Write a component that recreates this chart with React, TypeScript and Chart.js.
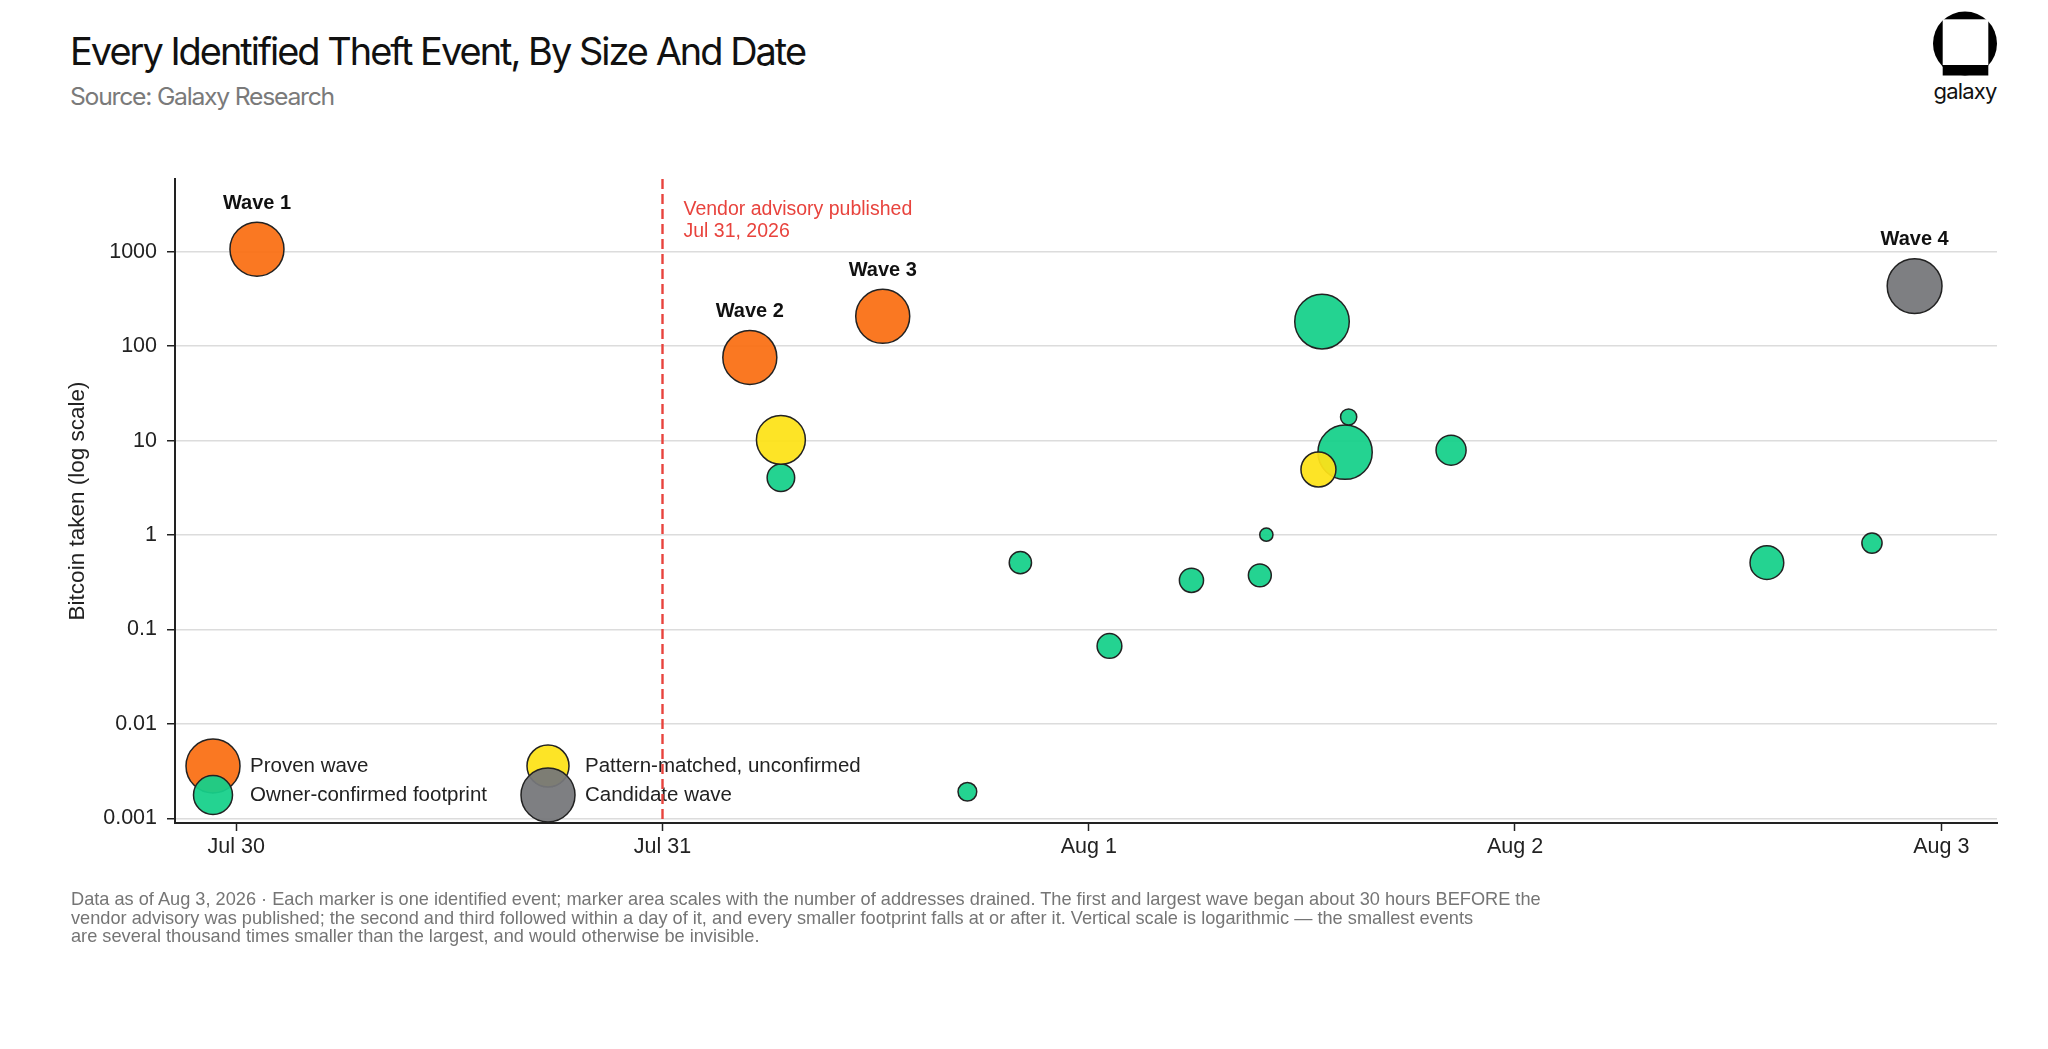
import { useEffect, useLayoutEffect, useRef } from "react";
import { Chart, registerables } from "chart.js";

Chart.register(...registerables);

// event data (UTC times, BTC taken, addresses drained -> marker area)
const provenTimes = ["2026-07-30T01:10", "2026-07-31T04:55", "2026-07-31T12:24"];
const provenBtc = [1065, 76, 207];
const provenAddresses = [100, 100, 100];
const provenLabels = ["Wave 1", "Wave 2", "Wave 3"];

const candidateTimes = ["2026-08-02T22:30"];
const candidateBtc = [433];
const candidateAddresses = [103];
const candidateLabels = ["Wave 4"];

const patternTimes = ["2026-07-31T06:40", "2026-08-01T12:56"];
const patternBtc = [10.2, 4.95];
const patternAddresses = [82, 42];

const ownerTimes = [
  "2026-07-31T06:40",
  "2026-07-31T17:10",
  "2026-07-31T20:09",
  "2026-08-01T01:10",
  "2026-08-01T05:47",
  "2026-08-01T09:38",
  "2026-08-01T10:00",
  "2026-08-01T13:08",
  "2026-08-01T14:26",
  "2026-08-01T14:38",
  "2026-08-01T20:24",
  "2026-08-02T14:11",
  "2026-08-02T20:06",
];
const ownerBtc = [4.04, 0.00192, 0.511, 0.0671, 0.332, 0.375, 1.01, 182, 7.54, 17.8, 7.92, 0.511, 0.823];
const ownerAddresses = [26, 12, 17, 21, 20, 18, 6, 102, 101, 9, 31, 39, 14];

const dayTicks = ["2026-07-30T00:00", "2026-07-31T00:00", "2026-08-01T00:00", "2026-08-02T00:00", "2026-08-03T00:00"];
const dayLabels = ["Jul 30", "Jul 31", "Aug 1", "Aug 2", "Aug 3"];
const yTicks = [0.001, 0.01, 0.1, 1, 10, 100, 1000];
const yTickLabels = ["0.001", "0.01", "0.1", "1", "10", "100", "1000"];
const advisoryTime = "2026-07-31T00:00";

const ORIGIN = Date.parse("2026-07-30T00:00Z");
const toDays = (t: string) => (Date.parse(t + "Z") - ORIGIN) / 86400000;
const sizeOf = (n: number) => 2.7 * Math.sqrt(n);

const FONT = "'Liberation Sans', Arial, sans-serif";
const ORANGE = "rgba(250,112,20,0.94)";
const YELLOW = "rgba(253,226,24,0.94)";
const GREEN = "rgba(22,208,138,0.94)";
const GRAY = "rgba(118,119,122,0.94)";
const RED = "#e8433d";

const points = (times: string[], btc: number[], addr: number[]) =>
  times.map((t, i) => ({ x: toDays(t), y: btc[i], r: sizeOf(addr[i]) }));

const legendItems = [
  { label: "Proven wave", color: ORANGE, r: 27, col: 0, row: 0 },
  { label: "Pattern-matched, unconfirmed", color: YELLOW, r: 21, col: 1, row: 0 },
  { label: "Owner-confirmed footprint", color: GREEN, r: 19.5, col: 0, row: 1 },
  { label: "Candidate wave", color: GRAY, r: 27, col: 1, row: 1 },
];

const overlay = {
  id: "overlay",
  afterDatasetsDraw(chart: any) {
    const { ctx, chartArea, scales } = chart;
    ctx.save();

    // wave labels above the big markers
    ctx.font = `bold 20px ${FONT}`;
    ctx.fillStyle = "#111";
    ctx.textAlign = "center";
    ctx.textBaseline = "middle";
    chart.data.datasets.forEach((ds: any, di: number) => {
      if (!ds.waveLabels) return;
      chart.getDatasetMeta(di).data.forEach((el: any, i: number) => {
        ctx.fillText(ds.waveLabels[i], el.x, el.y - ds.data[i].r - 19);
      });
    });

    // legend inside plot, bottom left
    ctx.textAlign = "left";
    ctx.font = `20.5px ${FONT}`;
    legendItems.forEach((it) => {
      const cx = chartArea.left + 38 + it.col * 335;
      const cy = chartArea.bottom - 57 + it.row * 29;
      ctx.beginPath();
      ctx.arc(cx, cy, it.r, 0, Math.PI * 2);
      ctx.fillStyle = it.color;
      ctx.fill();
      ctx.lineWidth = 1.5;
      ctx.strokeStyle = "#222";
      ctx.stroke();
      ctx.fillStyle = "#222";
      ctx.fillText(it.label, cx + 37, cy);
    });

    // vendor advisory marker
    const x = scales.x.getPixelForValue(toDays(advisoryTime));
    ctx.strokeStyle = RED;
    ctx.lineWidth = 2.4;
    ctx.setLineDash([10, 5]);
    ctx.beginPath();
    ctx.moveTo(x, chartArea.top);
    ctx.lineTo(x, chartArea.bottom);
    ctx.stroke();
    ctx.setLineDash([]);
    ctx.fillStyle = RED;
    ctx.font = `19.5px ${FONT}`;
    ctx.fillText("Vendor advisory published", x + 21, chartArea.top + 31);
    ctx.fillText("Jul 31, 2026", x + 21, chartArea.top + 53);
    ctx.restore();
  },
};

function FitText({ width, style, children }: any) {
  const ref = useRef<HTMLSpanElement>(null);
  useLayoutEffect(() => {
    const el = ref.current;
    if (!el) return;
    el.style.transform = "none";
    const w = el.getBoundingClientRect().width;
    el.style.transform = `scaleX(${width / w})`;
  }, [width]);
  return (
    <span ref={ref} style={{ display: "inline-block", whiteSpace: "nowrap", transformOrigin: "left top", ...style }}>
      {children}
    </span>
  );
}

function TheftChart() {
  const canvasRef = useRef<HTMLCanvasElement>(null);

  useEffect(() => {
    if (!canvasRef.current) return;
    const chart = new Chart(canvasRef.current, {
      type: "bubble",
      data: {
        datasets: [
          {
            label: "Proven wave",
            data: points(provenTimes, provenBtc, provenAddresses),
            backgroundColor: ORANGE,
            borderColor: "#222",
            borderWidth: 1.5,
            waveLabels: provenLabels,
            order: 1,
          },
          {
            label: "Candidate wave",
            data: points(candidateTimes, candidateBtc, candidateAddresses),
            backgroundColor: GRAY,
            borderColor: "#222",
            borderWidth: 1.5,
            waveLabels: candidateLabels,
            order: 2,
          },
          {
            label: "Pattern-matched, unconfirmed",
            data: points(patternTimes, patternBtc, patternAddresses),
            backgroundColor: YELLOW,
            borderColor: "#222",
            borderWidth: 1.5,
            order: 3,
          },
          {
            label: "Owner-confirmed footprint",
            data: points(ownerTimes, ownerBtc, ownerAddresses),
            backgroundColor: GREEN,
            borderColor: "#222",
            borderWidth: 1.5,
            order: 4,
          },
        ] as any,
      },
      options: {
        animation: false,
        responsive: true,
        maintainAspectRatio: false,
        events: [],
        layout: { padding: { top: 28, left: 60, right: 51, bottom: 37 } },
        plugins: { legend: { display: false }, tooltip: { enabled: false } },
        scales: {
          x: {
            type: "linear",
            min: -0.1437,
            max: 4.1308,
            afterFit: (s: any) => {
              s.height = 50;
            },
            afterBuildTicks: (s: any) => {
              s.ticks = dayTicks.map((t) => ({ value: toDays(t) }));
            },
            ticks: {
              padding: 3,
              color: "#222",
              font: { family: FONT, size: 21.5 },
              callback: (_v: any, i: number) => dayLabels[i],
            },
            grid: { drawOnChartArea: false, tickLength: 8, tickColor: "#222", tickWidth: 1.5 },
            border: { color: "#222", width: 2 },
          },
          y: {
            type: "logarithmic",
            min: 0.000896,
            max: 5900,
            afterFit: (s: any) => {
              s.width = 115;
            },
            afterBuildTicks: (s: any) => {
              s.ticks = yTicks.map((v) => ({ value: v }));
            },
            ticks: {
              padding: 10,
              color: "#222",
              font: { family: FONT, size: 21.5 },
              callback: (_v: any, i: number) => yTickLabels[i],
            },
            grid: { color: "#dcdcdc", lineWidth: 1.5, tickLength: 8, tickColor: "#222", tickWidth: 1.5 },
            border: { color: "#222", width: 2 },
            title: {
              display: true,
              text: "Bitcoin taken (log scale)",
              color: "#222",
              font: { family: FONT, size: 22.5 },
              padding: { top: 4, bottom: 0 },
            },
          },
        },
      },
      plugins: [overlay],
    });
    return () => chart.destroy();
  }, []);

  return (
    <div style={{ position: "absolute", left: 0, top: 150, width: 2048, height: 760 }}>
      <canvas ref={canvasRef} />
    </div>
  );
}

export default function App() {
  return (
    <div
      style={{
        position: "absolute",
        left: 0,
        top: 0,
        width: 2048,
        height: 1049,
        overflow: "hidden",
        background: "#fff",
        fontFamily: FONT,
      }}
    >
      <div style={{ position: "absolute", left: 70, top: 32, fontFamily: "Inter, sans-serif", fontSize: 38, lineHeight: 1, color: "#111", letterSpacing: -2 }}>
        <FitText width={735}>Every Identified Theft Event, By Size And Date</FitText>
      </div>
      <div style={{ position: "absolute", left: 70, top: 85, fontFamily: "Inter, sans-serif", fontSize: 24, lineHeight: 1, color: "#7a7a7a", letterSpacing: -1.2 }}>
        <FitText width={264}>Source: Galaxy Research</FitText>
      </div>

      <svg style={{ position: "absolute", left: 1933, top: 11 }} width={64} height={65} viewBox="0 0 64 65">
        <circle cx={32} cy={32.5} r={32} fill="#000" />
        <rect x={9.7} y={8.3} width={45.6} height={45.7} fill="#fff" />
        <rect x={9.7} y={54} width={45.6} height={10.5} fill="#000" />
      </svg>
      <div style={{ position: "absolute", left: 1925, width: 80, top: 80, textAlign: "center", fontFamily: "Inter, sans-serif", fontSize: 22, lineHeight: 1, color: "#111", letterSpacing: -0.8 }}>
        galaxy
      </div>

      <TheftChart />

      <div style={{ position: "absolute", left: 71, top: 890, fontSize: 18.2, lineHeight: "18.5px", color: "#757575" }}>
        Data as of Aug 3, 2026 · Each marker is one identified event; marker area scales with the number of addresses drained. The first and largest wave began about 30 hours BEFORE the
        <br />
        vendor advisory was published; the second and third followed within a day of it, and every smaller footprint falls at or after it. Vertical scale is logarithmic — the smallest events
        <br />
        are several thousand times smaller than the largest, and would otherwise be invisible.
      </div>
    </div>
  );
}
